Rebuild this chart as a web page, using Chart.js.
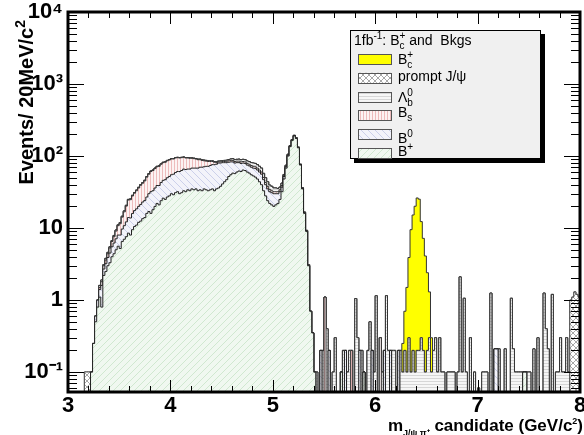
<!DOCTYPE html>
<html>
<head>
<meta charset="utf-8">
<script src="https://cdn.jsdelivr.net/npm/chart.js@4.4.0/dist/chart.umd.min.js"></script>
<style>
  html, body { margin: 0; padding: 0; background: #fff; }
  canvas { display: block; }
</style>
</head>
<body>
<canvas id="grafica" width="584" height="435"></canvas>
<script>
// 20 MeV bins from 3 to 8 GeV/c2 (250 bins)
const massMin = 3.0;
const binWidth = 0.02;

const xTickLabels = ["3", "4", "5", "6", "7", "8"];
const yTickValues = [0.1, 1, 10, 100, 1000, 10000];
const yTickLabels = ["10⁻¹", "1", "10", "10²", "10³", "10⁴"];

// B+ (bottom of the stack)
const bPlus = [
    0,0,0,0,0, 0,0,0,0,0, 0,0.1,0.25,0.5,0.8, 1.1,0.8,2.2,2.5,3.0, 3.3,4.0,4.4,5.0,5.6,
    5.2,6.5,7.0,7.6,8.5, 8.0,9.5,10.5,11,12, 12.5,13.5,14,16,17, 16,18,20,22,21, 24,26,25,27,28,
    30,29,31,32,30, 31,33,32,34,33, 35,34,35,33,34, 33,35,34,33,34, 35,33,35,36,38,
    41,44,47,52,55, 58,57,60,62,61, 64,63,60,58,55, 53,51,48,44,40, 33,28,24,22,21,
    20,21,22,25,32, 48,68,100,135,165, 190,175,130,75,35, 16,9,3,0.7,0.35, 0.1,0,0,0,0,
    0,0,0,0,0, 0,0,0,0.1,0, 0,0,0,0,0, 0,0,0,0,0.1, 0,0,0,0,0,
    0,0,0,0,0, 0,0,0,0,0, 0,0,0,0,0, 0,0,0,0,0, 0,0,0,0,0,
    0,0,0,0,0, 0,0,0,0,0, 0,0,0,0,0, 0,0,0,0,0, 0,0,0,0,0,
    0,0,0,0,0, 0,0,0,0,0, 0,0,0,0,0, 0,0,0,0,0, 0,0,0.1,0.1,0,
    0,0,0,0,0, 0,0,0,0,0, 0,0,0,0,0, 0,0,0,0,0, 0,0,0,0,0
];

// B0
const b0 = [
    0,0,0,0,0, 0,0,0,0,0, 0,0,0,0.1,0.2, 0.3,0.8,0.5,0.7,0.9, 1.2,1.5,1.8,2.1,2.4,
    2.8,3.2,3.8,4.6,5.5, 5.8,6.4,7.0,7.5,8.0, 8.8,9.5,10.2,11,13, 16,15,16,17,18, 19,20,22,23,24,
    25,27,28,29,31, 32,33,33,32,33, 33,34,33,35,36, 37,36,38,39,40, 41,43,42,44,42,
    40,37,34,30,28, 25,23,21,19,18, 16,16,15,15,15, 15,16,16,16,16, 14,12,11,10,10,
    10,9,8,7,5, 4,3,3,2,2, 2,2,1.5,1,0.6, 0.3,0.1,0,0,0, 0,0,0,0.2,0,
    0,0,0.2,0,0, 0,0,0,0,0, 0.2,0,0,0,0, 0,0,0.2,0,0, 0,0,0,0.2,0,
    0,0,0,0,0.2, 0,0,0.2,0,0, 0,0.2,0,0,0, 0,0,0,0,0, 0,0,0,0,0,
    0,0,0,0,0, 0,0,0,0,0, 0,0,0,0,0, 0,0,0,0,0, 0,0,0,0,0,
    0,0,0,0,0, 0,0,0,0.21,0.21, 0,0,0,0,0, 0,0,0,0,0, 0,0,0,0,0,
    0,0,0,0,0, 0,0,0,0,0, 0,0,0,0,0, 0,0,0,0,0, 0,0,0,0,0
];

// Bs
const bS = [
    0,0,0,0,0, 0,0,0,0,0, 0,0,0,0,0, 0.1,0.2,0.3,0.4,0.5, 0.8,1.0,1.4,2.0,2.8,
    3.5,4.5,6,8,10.5, 11,12,13,14.5,16, 18,19,21,24,26, 29,30,31,32,33, 34,35,35,36,36,
    36,35,35,34,33, 32,30,29,28,27, 25,24,23,21,19, 17,15,13,12,10, 8,6,4,3,3,
    3,3,3.5,4,4, 4,4,4,4,4, 4,4,4,4,4, 4,4,4,4,4, 3.5,3,3,2.5,2,
    2,2,2,2,2, 1.5,1.5,1,1,1, 1,1,0.5,0.3,0.2, 0.1,0,0,0,0, 0,0,0,0,0,
    1.1,0,0,0,0, 0,0,0,0,0, 0,0,0,0.2,0, 0,0,0,0,0, 0,0,0,0,0,
    0,0,0.3,0,0, 0,0,0,0,0, 0,0,0,0,0, 0,0,0,0,0, 0,0,0,0,0,
    0,0,0,0,0, 0,0,0,0,0, 0,0,0,0,0, 0,0,0,0,0, 0,0,0,0,0,
    0,0,0,0,0, 0,0,0,0,0, 0,0,0,0,0, 0,0,0,0,0, 0,0,0,0,0,
    0,0,0,0,0, 0,0,0,0,0, 0,0,0,0,0, 0,0,0,0,0, 0,0,0,0,0
];

// Lambda_b
const lambdaB = [
    0,0,0,0,0, 0,0,0,0,0, 0,0,0,0,0, 0.1,0.1,0.1,0.2,0.2, 0.2,0.2,0.3,0.3,0.3,
    0.4,0.4,0.5,0.5,0.5, 0.6,0.6,0.7,0.7,0.8, 0.8,0.8,0.9,0.9,1.0, 1.0,1.0,1.0,1.0,1.0, 1.0,1.0,1.0,1.0,1.0,
    1,1,1,1,1, 1,1,1,1.2,1.2, 1.2,1.4,1.5,1.5,1.6, 1.8,1.8,2,2,2, 2,2,2,2,2.5,
    2.5,3,3,3.5,4, 5,5,5,5.5,5.5, 6,6,6.5,7,7, 8,8,8,8,8, 7,7,6,5,5,
    4,4,3.5,3,3, 2,2,2,1.5,1.5, 1,1,1,0.8,0.5, 0.3,0.2,0.1,0,0, 0,0.1,0,0,0.2,
    0,0.4,0,0,0.1, 0.3,0,0,0,0.2, 0,0.1,0.2,0,0, 1.05,0.3,0,0.2,0, 0,0.2,0.5,0,0.1,
    1.15,0,0,0.1,0, 1.15,0.2,0,0.2,0.2, 0,0,0.2,0.1,0.2, 0.1,0.3,0.1,0.2,0.1, 0.2,0.2,0.3,0.2,0.1,
    0.2,0.3,0.1,0.2,0.3, 0.1,0.3,0.1,0.1,0, 0.1,0.1,0.1,0.1,0, 0.1,2.1,0.1,1.06,0.1, 0,0.3,0,0.1,0,
    0.06,0,0.1,0.1,0.1, 0,1.25,0,0,0, 0.21,0,0,0.21,0, 0,1.06,0.21,0.1,0.1, 0.1,0.1,0,0,0.1,
    0.1,0,0.21,0,0.3, 0,0,1.25,0.4,0.21, 0,1.2,0,0.1,0.1, 0.3,0.1,0.1,0.3,0.1, 0,0,0,0,0
];

// prompt J/psi
const promptJpsi = [
    0,0,0,0,0, 0,0,0,0.1,0.1, 0.1,0,0,0,0, 0,0,0,0,0, 0,0,0,0,0,
    0,0,0,0,0, 0,0,0,0,0, 0,0,0,0,0, 0,0,0,0,0, 0,0,0,0,0,
    0,0,0,0,0, 0,0,0,0,0, 0,0,0,0,0, 0,0,0,0,0, 0,0,0,0,0,
    0,0,0,0,0, 0,0,0,0,0, 0,0,0,0,0, 0,0,0,0,0, 0,0,0,0,0,
    0,0,0,0,0, 0,0,0,0,0, 0,0,0,0,0, 0,0,0,0,0, 0,0,0,0,0,
    0,0,0,0,0, 0,0,0,0,0, 0,0,0,0,0, 0,0,0,0,0, 0,0,0,0,0,
    0,0,0,0,0, 0,0,0,0,0, 0,0,0,0,0, 0,0,0,0,0, 0,0,0,0,0,
    0,0,0,0,0, 0,0,0,0,0, 0,0,0,0,0, 0,0,0,0,0, 0,0,0,0,0,
    0,0,0,0,0, 0,0,0,0,0, 0,0,0,0,0, 0,0,0,0,0, 0,0,0,0,0,
    0,0,0,0,0, 0,0,0,0,0, 0,0,0,0,0, 0,0,0,0,0, 1.0,1.1,1.3,1.2,1.1
];

// Bc+ signal (top of the stack)
const bcSignal = [
    0,0,0,0,0, 0,0,0,0,0, 0,0,0,0,0, 0,0,0,0,0, 0,0,0,0,0,
    0,0,0,0,0, 0,0,0,0,0, 0,0,0,0,0, 0,0,0,0,0, 0,0,0,0,0,
    0,0,0,0,0, 0,0,0,0,0, 0,0,0,0,0, 0,0,0,0,0, 0,0,0,0,0,
    0,0,0,0,0, 0,0,0,0,0, 0,0,0,0,0, 0,0,0,0,0, 0,0,0,0,0,
    0,0,0,0,0, 0,0,0,0,0, 0,0,0,0,0, 0,0,0,0,0, 0,0,0,0,0,
    0,0,0,0,0, 0,0,0,0,0, 0,0,0,0,0, 0,0,0,0,0, 0,0,0,0,0,
    0,0,0,0,0, 0,0,0,0,0, 0,0,0,0.15,0.5, 1.4,3.6,9.4,15,20, 26,25,12,7,4,
    2.2,1.0,0.2,0,0, 0,0,0,0,0, 0,0,0,0,0, 0,0,0,0,0, 0,0,0,0,0,
    0,0,0,0,0, 0,0,0,0,0, 0,0,0,0,0, 0,0,0,0,0, 0,0,0,0,0,
    0,0,0,0,0, 0,0,0,0,0, 0,0,0,0,0, 0,0,0,0,0, 0,0,0,0,0
];

const FONT = "'Liberation Sans', Arial, Helvetica, sans-serif";

// el eje log descarta los ceros: se sustituyen por un valor muy por debajo del eje
const EMPTY_BIN = 1e-4;

// pequeño patrón de rayado para los rellenos tipo ROOT
function hatch(bg, fg, kind) {
    const s = (kind === "vert" || kind === "horiz") ? 3 : (kind === "cross" ? 6 : 7);
    const c = document.createElement("canvas");
    c.width = s;
    c.height = s;
    const g = c.getContext("2d");
    g.fillStyle = bg;
    g.fillRect(0, 0, s, s);
    g.strokeStyle = fg;
    g.lineWidth = 1;
    g.beginPath();
    if (kind === "slash" || kind === "cross") {
        g.moveTo(0, s); g.lineTo(s, 0);
        g.moveTo(-1, 1); g.lineTo(1, -1);
        g.moveTo(s - 1, s + 1); g.lineTo(s + 1, s - 1);
    }
    if (kind === "back" || kind === "cross") {
        g.moveTo(0, 0); g.lineTo(s, s);
        g.moveTo(-1, s - 1); g.lineTo(1, s + 1);
        g.moveTo(s - 1, -1); g.lineTo(s + 1, 1);
    }
    if (kind === "vert") { g.moveTo(0.5, 0); g.lineTo(0.5, s); }
    if (kind === "horiz") { g.moveTo(0, 0.5); g.lineTo(s, 0.5); }
    g.stroke();
    const ctx = document.createElement("canvas").getContext("2d");
    return ctx.createPattern(c, "repeat");
}

// stack order: bottom first
const series = [
    { vals: bPlus, fill: "origin", bg: hatch("#f0f8f0", "#d0e8d0", "slash"), line: "#222",
      text: [["B", "", "+"]], base: 8 },
    { vals: b0, fill: "-1", bg: hatch("#f3f3fa", "#ccd0ea", "back"), line: "#222",
      text: [["B", "", "0"]], base: 14 },
    { vals: bS, fill: "-1", bg: hatch("#fcf3f3", "#edbcbc", "vert"), line: "#333",
      text: [["B", "s", ""]], base: 7 },
    { vals: lambdaB, fill: "-1", bg: hatch("#f6f6f6", "#d6d6d6", "horiz"), line: "#333",
      text: [["Λ", "b", "0"]], base: 10 },
    { vals: promptJpsi, fill: "-1", bg: hatch("#ffffff", "#a8a8a8", "cross"), line: "#555",
      text: [["prompt J/ψ", "", ""]], base: 8 },
    { vals: bcSignal, fill: "-1", bg: "#ffff00", line: "#333",
      text: [["B", "c", "+"]], base: 10 }
];

function toSteps(vals) {
    const pts = vals.map((v, i) => ({ x: massMin + i * binWidth, y: v > 0 ? v : EMPTY_BIN }));
    pts.push({ x: massMin + vals.length * binWidth, y: pts[pts.length - 1].y });
    return pts;
}

// texto con subíndices / superíndices
function richText(ctx, parts, x, y, size, weight, align, small) {
    const sm = small || Math.round(size * 0.68);
    const f = s => weight + " " + s + "px " + FONT;
    const widths = parts.map(p => {
        ctx.font = f(size);
        const a = ctx.measureText(p[0]).width;
        ctx.font = f(sm);
        const b = Math.max(p[1] ? ctx.measureText(p[1]).width : 0, p[2] ? ctx.measureText(p[2]).width : 0);
        return [a, b];
    });
    const total = widths.reduce((s, w) => s + w[0] + w[1], 0);
    let cx = align === "right" ? x - total : x;
    ctx.textAlign = "left";
    ctx.textBaseline = "alphabetic";
    parts.forEach((p, i) => {
        ctx.font = f(size);
        ctx.fillText(p[0], cx, y);
        cx += widths[i][0];
        ctx.font = f(sm);
        if (p[1]) ctx.fillText(p[1], cx, y + size * 0.32);
        if (p[2]) ctx.fillText(p[2], cx, y - size * 0.42);
        cx += widths[i][1];
    });
}

const framePlugin = {
    id: "frame",
    afterDatasetsDraw(chart) {
        const { ctx, chartArea: a, scales: { x, y } } = chart;
        ctx.save();
        ctx.strokeStyle = "#000";
        ctx.lineWidth = 1;
        ctx.beginPath();
        for (let e = -2; e <= 4; e++) {
            for (let k = 1; k <= 9; k++) {
                const v = k * Math.pow(10, e);
                if (v < y.min || v > y.max) continue;
                const py = Math.round(y.getPixelForValue(v)) + 0.5;
                const len = k === 1 ? 16 : 9;
                ctx.moveTo(a.left, py); ctx.lineTo(a.left + len, py);
                ctx.moveTo(a.right, py); ctx.lineTo(a.right - len, py);
            }
        }
        for (let j = 0; j <= 25; j++) {
            const px = Math.round(x.getPixelForValue(3 + j * 0.2)) + 0.5;
            const len = j % 5 === 0 ? 12 : 6;
            ctx.moveTo(px, a.bottom); ctx.lineTo(px, a.bottom - len);
            ctx.moveTo(px, a.top); ctx.lineTo(px, a.top + len);
        }
        ctx.stroke();
        ctx.lineWidth = 3;
        ctx.strokeRect(a.left, a.top, a.right - a.left, a.bottom - a.top);
        ctx.restore();
    },
    afterDraw(chart) {
        const ctx = chart.ctx;
        ctx.save();
        ctx.fillStyle = "#000";

        // leyenda
        ctx.fillRect(354, 34, 191, 129);
        ctx.fillStyle = "#f0f0f0";
        ctx.fillRect(350, 30, 191, 129);
        ctx.strokeStyle = "#000";
        ctx.lineWidth = 1;
        ctx.strokeRect(350.5, 30.5, 190, 128);
        ctx.fillStyle = "#000";
        richText(ctx, [["1fb", "", "-1"], [": B", "c", "+"], [" and  Bkgs", "", ""]], 354, 45, 14, "normal", "left");
        const order = series.slice().reverse();
        order.forEach((s, k) => {
            const top = 54 + k * 18.8;
            ctx.fillStyle = s.bg;
            ctx.fillRect(358, top, 33, 10);
            ctx.strokeStyle = "#555";
            ctx.strokeRect(358.5, Math.round(top) + 0.5, 33, 10);
            ctx.fillStyle = "#000";
            richText(ctx, s.text, 398, Math.round(top) + s.base, 14, "normal", "left");
        });

        // títulos de ejes
        richText(ctx, [["m", "J/ψ π⁺", ""], [" candidate (GeV/c", "", "2"], [")", "", ""]],
            583, 431, 17, "bold", "right", 9);
        ctx.translate(33, 20);
        ctx.rotate(-Math.PI / 2);
        richText(ctx, [["Events/ 20MeV/c", "", "2"]], 0, 0, 20, "bold", "right");
        ctx.restore();
    }
};

const canvas = document.getElementById("grafica");
const tickFont = { family: FONT, size: 22, weight: "bold" };

new Chart(canvas, {
    type: "line",
    data: {
        datasets: series.map(s => ({
            data: toSteps(s.vals),
            stepped: true,
            fill: s.fill,
            backgroundColor: s.bg,
            borderColor: s.line,
            borderWidth: 1,
            pointRadius: 0,
            pointHoverRadius: 0
        }))
    },
    options: {
        responsive: false,
        animation: false,
        devicePixelRatio: 1,
        layout: { padding: { top: 12, right: 4, left: 0, bottom: 0 } },
        plugins: {
            legend: { display: false },
            tooltip: { enabled: false }
        },
        scales: {
            x: {
                type: "linear",
                min: 3,
                max: 8,
                grid: { display: false, drawTicks: false },
                border: { display: false },
                afterBuildTicks: s => { s.ticks = xTickLabels.map(t => ({ value: Number(t) })); },
                ticks: {
                    callback: (v, i) => xTickLabels[i],
                    font: tickFont,
                    color: "#000",
                    padding: 1,
                    maxRotation: 0,
                    autoSkip: false
                },
                afterFit: s => { s.height = 43; s.paddingLeft = 0; s.paddingRight = 0; }
            },
            y: {
                type: "logarithmic",
                min: 0.053,
                max: 10000,
                stacked: true,
                grid: { display: false, drawTicks: false },
                border: { display: false },
                afterBuildTicks: s => { s.ticks = yTickValues.map(v => ({ value: v })); },
                ticks: {
                    callback: (v, i) => yTickLabels[i],
                    font: tickFont,
                    color: "#000",
                    padding: 5,
                    autoSkip: false
                },
                afterFit: s => { s.width = 68; s.paddingTop = 0; s.paddingBottom = 0; }
            }
        }
    },
    plugins: [framePlugin]
});
</script>
</body>
</html>
